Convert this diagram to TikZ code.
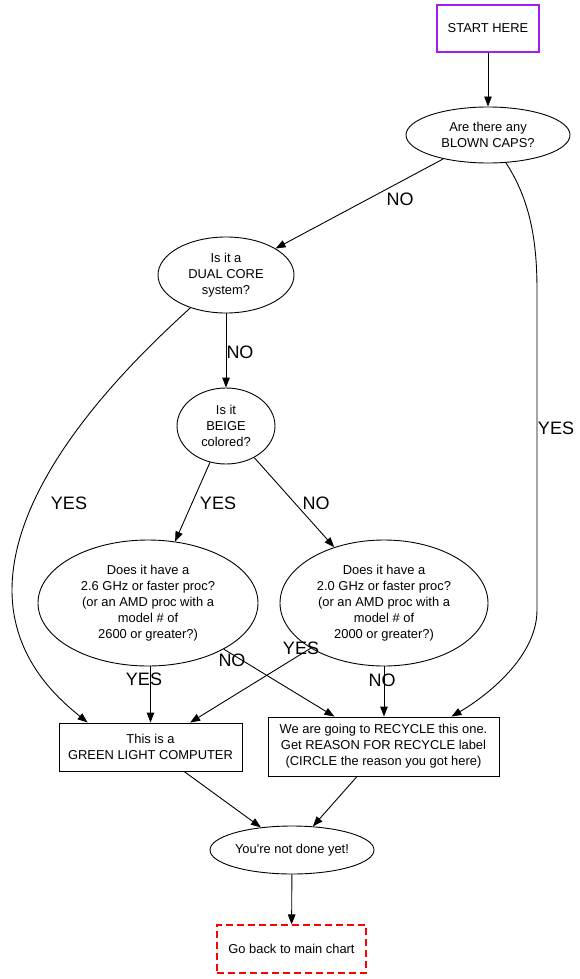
\documentclass[tikz,border=0pt]{standalone}
\usepackage{fontspec}
\setmainfont{Liberation Sans}[Ligatures=ResetAll]
\usetikzlibrary{shapes.geometric,arrows.meta}
\definecolor{gvpurple}{RGB}{160,32,240}
\definecolor{gvred}{RGB}{255,0,0}
\tikzset{
  txt/.style={font=\fontsize{12.9}{16}\selectfont, align=center, inner sep=0pt},
  oval/.style={txt, draw, ellipse, line width=0.9pt},
  box/.style={txt, draw, rectangle, line width=0.9pt},
  lbl/.style={font=\fontsize{18}{20}\selectfont, inner sep=0pt},
  edge/.style={line width=0.9pt, -{Triangle[length=10pt,width=7.5pt]}}
}
\begin{document}
\begin{tikzpicture}[x=1pt,y=-1pt]
\useasboundingbox (0,0) rectangle (580,979);
\node[box, draw=gvpurple, line width=2pt, minimum width=102pt, minimum height=47pt] (start) at (488,28.5) {START HERE};
\node[oval, minimum width=164pt, minimum height=56pt] (caps) at (488,135) {Are there any\\BLOWN CAPS?};
\node[oval, minimum width=136pt, minimum height=76pt] (dual) at (226,275) {Is it a\\DUAL CORE\\system?};
\node[oval, minimum width=98pt, minimum height=76pt] (beige) at (226,426) {Is it\\BEIGE\\colored?};
\node[oval, minimum width=220pt, minimum height=126pt] (f26) at (148,603) {Does it have a\\2.6 GHz or faster proc?\\(or an AMD proc with a\\model \# of\\2600 or greater?)};
\node[oval, minimum width=208pt, minimum height=126pt] (f20) at (384,603) {Does it have a\\2.0 GHz or faster proc?\\(or an AMD proc with a\\model \# of\\2000 or greater?)};
\node[box, minimum width=183pt, minimum height=48pt] (green) at (150.5,747) {This is a\\GREEN LIGHT COMPUTER};
\node[box, minimum width=231pt, minimum height=59pt] (recycle) at (383.5,746.5) {We are going to RECYCLE this one.\\Get REASON FOR RECYCLE label\\(CIRCLE the reason you got here)};
\node[oval, minimum width=164pt, minimum height=48pt] (notdone) at (292,850) {You\textquotesingle re not done yet!};
\node[box, draw=gvred, line width=1.1pt, dash pattern=on 7pt off 4pt, minimum width=149pt, minimum height=48pt] (back) at (291.5,949) {Go back to main chart};

\draw[edge] (start) -- (caps);
\draw[edge] (caps) -- (dual);
\draw[edge] (caps) .. controls (530,200) and (537,240) .. (537,290) -- (537,610) .. controls (537,660) and (480,700) .. ([xshift=-48pt]recycle.north east);
\draw[edge] (dual) -- (beige);
\draw[edge] (dual) .. controls (150,345) and (12,470) .. (12,590) .. controls (12,660) and (60,700) .. ([xshift=29pt]green.north west);
\draw[edge] (beige) -- (f26);
\draw[edge] (beige) -- (f20);
\draw[edge] (f26.south -| green.north) -- (green);
\draw[edge] (f26) -- (recycle);
\draw[edge] (f20) -- (green);
\draw[edge] (f20.south) -- (recycle.north -| f20.south);
\draw[edge] (green) -- (notdone);
\draw[edge] (recycle) -- (notdone);
\draw[edge] (notdone) -- (back);

\node[lbl] (l1) at (400,199) {NO};
\node[lbl] (l2) at (556,428) {YES};
\node[lbl] (l3) at (240,352) {NO};
\node[lbl] (l4) at (69,503) {YES};
\node[lbl] (l5) at (218,503) {YES};
\node[lbl] (l6) at (316,503) {NO};
\node[lbl] (l7) at (144,679) {YES};
\node[lbl] (l8) at (232,660) {NO};
\node[lbl] (l9) at (301,648) {YES};
\node[lbl] (l10) at (382,680) {NO};
\end{tikzpicture}
\end{document}
